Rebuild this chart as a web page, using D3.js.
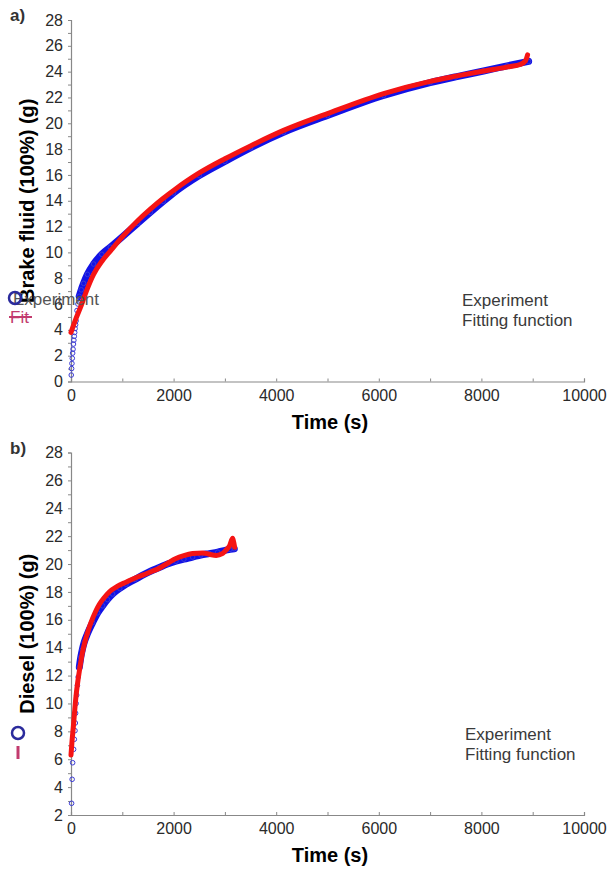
<!DOCTYPE html>
<meta charset='utf-8'>
<style>
  body { margin: 0; background: #fff; }
  svg text { font-family: 'Liberation Sans', Arial, sans-serif; }
</style>
<div id='chart'></div>
<script src='https://d3js.org/d3.v7.min.js'></script>
<script>
  // panel a: brake fluid
  var expA_t = [5, 12, 18, 25, 32, 40, 48, 56, 64, 72, 80, 90, 100, 117, 135, 160, 200, 246, 320, 440, 600, 766, 1000, 1300, 1546, 1800, 2000, 2500, 3000, 3500, 4144, 5000, 6094, 7000, 7500, 8043, 8500, 8920];
  var expA_v = [0.5, 1.0, 1.4, 1.8, 2.2, 2.5, 2.9, 3.2, 3.5, 3.8, 4.1, 4.4, 4.7, 5.5, 6.0, 6.6, 7.1, 7.6, 8.3, 9.1, 9.85, 10.4, 11.2, 12.25, 13.1, 13.95, 14.6, 15.95, 17.05, 18.1, 19.3, 20.6, 22.15, 23.15, 23.6, 24.05, 24.45, 24.8];
  var fitA_t = [0, 100, 200, 300, 440, 600, 766, 1000, 1300, 1546, 1800, 2000, 2500, 3000, 3500, 4144, 5000, 6094, 7000, 7500, 8043, 8565, 8750, 8860, 8900];
  var fitA_v = [3.8, 4.9, 5.9, 7.0, 8.3, 9.3, 10.1, 11.2, 12.45, 13.35, 14.2, 14.8, 16.15, 17.25, 18.25, 19.45, 20.75, 22.3, 23.25, 23.65, 24.05, 24.4, 24.55, 24.85, 25.3];

  // panel b: diesel
  var expB_t = [12, 22, 32, 51, 65, 78, 85, 90, 100, 110, 125, 140, 162, 190, 220, 259, 320, 421, 520, 616, 711, 811, 950, 1072, 1250, 1397, 1560, 1721, 1880, 2046, 2200, 2371, 2530, 2696, 2860, 3021, 3100, 3183];
  var expB_v = [2.84, 4.56, 5.75, 6.71, 7.43, 8.05, 8.6, 9.3, 10.0, 10.6, 11.3, 11.9, 12.6, 13.3, 13.85, 14.4, 15.0, 15.8, 16.5, 17.0, 17.45, 17.85, 18.25, 18.55, 18.9, 19.2, 19.5, 19.75, 20.0, 20.2, 20.35, 20.5, 20.65, 20.75, 20.85, 21.0, 21.05, 21.1];
  var fitB_t = [0, 20, 45, 70, 97, 130, 162, 220, 292, 350, 421, 480, 551, 650, 746, 900, 1072, 1250, 1397, 1560, 1721, 1880, 2046, 2200, 2371, 2566, 2700, 2830, 2950, 3021, 3090, 3151, 3175, 3190];
  var fitB_v = [6.3, 7.3, 8.3, 9.4, 10.5, 11.5, 12.3, 13.6, 14.7, 15.4, 16.1, 16.6, 17.1, 17.6, 18.0, 18.4, 18.7, 19.0, 19.2, 19.45, 19.7, 20.05, 20.4, 20.6, 20.75, 20.8, 20.7, 20.62, 20.75, 21.0, 21.3, 21.85, 21.5, 21.2];

  var xTicks = [0, 2000, 4000, 6000, 8000, 10000];
  var yTicksA = [0, 2, 4, 6, 8, 10, 12, 14, 16, 18, 20, 22, 24, 26, 28];
  var yTicksB = [2, 4, 6, 8, 10, 12, 14, 16, 18, 20, 22, 24, 26, 28];

  var svg = d3.select('#chart').append('svg')
    .attr('width', 608).attr('height', 873);

  function zip(t, v) { return t.map(function (d, i) { return [d, v[i]]; }); }

  function panel(opt) {
    var x = d3.scaleLinear().domain([0, 10000]).range([opt.left, 584]);
    var y = d3.scaleLinear().domain(opt.ydom).range([opt.bottom, opt.top]);
    var g = svg.append('g');

    // axes
    var xa = g.append('g')
      .attr('transform', 'translate(0,' + opt.bottom + ')')
      .call(d3.axisBottom(x).tickValues(d3.range(0, 10001, 1000)).tickSize(-3)
        .tickFormat(function (d) { return xTicks.indexOf(d) >= 0 ? d : ''; }));
    var ya = g.append('g')
      .attr('transform', 'translate(' + opt.left + ',0)')
      .call(d3.axisLeft(y).tickValues(d3.range(opt.ydom[0], 28.01, 1)).tickSize(3)
        .tickFormat(function (d) { return opt.yticks.indexOf(d) >= 0 ? d : ''; }));
    [xa, ya].forEach(function (a) {
      a.select('.domain').attr('stroke', '#888').attr('stroke-width', 1.2);
      a.selectAll('.tick line').attr('stroke', '#888');
      a.selectAll('.tick text').attr('fill', '#2a2a2a').style('font-size', '16px');
    });
    xa.selectAll('.tick text').attr('y', 8);
    ya.selectAll('.tick text').attr('x', -8);

    // titles
    g.append('text').attr('x', 330).attr('y', opt.bottom + 47)
      .attr('text-anchor', 'middle').style('font-size', '20px').style('font-weight', 'bold')
      .text('Time (s)');
    g.append('text')
      .attr('transform', 'translate(34,' + (opt.top + opt.bottom) / 2 + ') rotate(-90)')
      .attr('text-anchor', 'middle').style('font-size', '20px').style('font-weight', 'bold')
      .text(opt.ytitle);
    g.append('text').attr('x', 10).attr('y', opt.top + 1)
      .style('font-size', '17px').style('font-weight', 'bold').attr('fill', '#333')
      .text(opt.tag);

    // experiment: open circles, dense part as thick band
    var exp = zip(opt.et, opt.ev);
    var line = d3.line().x(function (d) { return x(d[0]); }).y(function (d) { return y(d[1]); })
      .curve(d3.curveMonotoneX);
    g.append('path').datum(exp.filter(function (d) { return d[0] >= opt.dense; }))
      .attr('d', line).attr('fill', 'none').attr('stroke', '#1212e6')
      .attr('stroke-width', 7).attr('stroke-linecap', 'round');
    g.append('g').selectAll('circle').data(exp).enter().append('circle')
      .attr('cx', function (d) { return x(d[0]); })
      .attr('cy', function (d) { return y(d[1]); })
      .attr('r', 2.3).attr('fill', 'none').attr('stroke', '#3b3bd6').attr('stroke-width', 1);

    // fitting function
    g.append('path').datum(zip(opt.ft, opt.fv))
      .attr('d', line).attr('fill', 'none').attr('stroke', '#f51414')
      .attr('stroke-width', 5).attr('stroke-linecap', 'round');

    // legend text
    g.append('text').attr('x', opt.lx).attr('y', opt.ly).attr('fill', '#3a3a3a')
      .style('font-size', '17px').text('Experiment');
    g.append('text').attr('x', opt.lx).attr('y', opt.ly + 20).attr('fill', '#3a3a3a')
      .style('font-size', '17px').text('Fitting function');
    return g;
  }

  var ga = panel({ left: 71, top: 20, bottom: 381.5, ydom: [0, 28], yticks: yTicksA,
    ytitle: 'Brake fluid (100%) (g)', tag: 'a)', et: expA_t, ev: expA_v, ft: fitA_t, fv: fitA_v,
    dense: 140, lx: 462, ly: 306 });
  var gb = panel({ left: 71, top: 452.5, bottom: 815, ydom: [2, 28], yticks: yTicksB,
    ytitle: 'Diesel (100%) (g)', tag: 'b)', et: expB_t, ev: expB_v, ft: fitB_t, fv: fitB_v,
    dense: 150, lx: 465, ly: 740 });

  // stray legend markers at the left edge
  ga.append('text').attr('x', 13).attr('y', 305).attr('fill', '#555')
    .style('font-size', '17px').text('Experiment');
  ga.append('circle').attr('cx', 15).attr('cy', 298).attr('r', 6)
    .attr('fill', 'none').attr('stroke', '#2b2b9c').attr('stroke-width', 2.5);
  ga.append('text').attr('x', 10).attr('y', 323).attr('fill', '#c23b6e')
    .style('font-size', '17px').text('Fit');
  ga.append('line').attr('x1', 9).attr('x2', 32).attr('y1', 317).attr('y2', 317)
    .attr('stroke', '#c23b6e').attr('stroke-width', 2);
  gb.append('circle').attr('cx', 18).attr('cy', 733).attr('r', 6)
    .attr('fill', 'none').attr('stroke', '#2b2b9c').attr('stroke-width', 2.5);
  gb.append('line').attr('x1', 18).attr('x2', 18).attr('y1', 746).attr('y2', 759)
    .attr('stroke', '#c23b6e').attr('stroke-width', 3);
</script>
